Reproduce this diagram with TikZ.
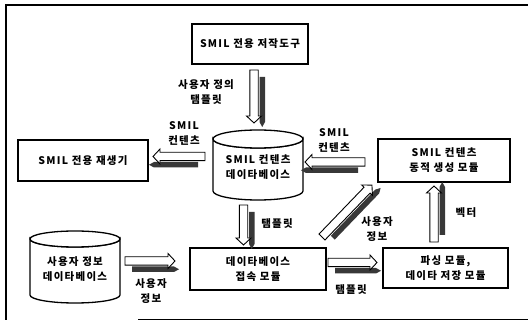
\documentclass[tikz,border=0pt]{standalone}
\usepackage{fontspec}
\setmainfont{Noto Sans CJK KR}[LetterSpace=12]
\tikzset{
  box/.style={draw, line width=1.6pt, fill=white, align=center, inner sep=0pt},
  lbl/.style={align=center, inner sep=0pt},
  dbtxt/.style={align=center, inner sep=0pt},
  cyl/.style={draw, line width=1.3pt, fill=white},
  shade/.style={fill=black!78},
  pics/blockarrow/.style n args={2}{code={
    % #1 length, #2 side (+1 left of direction, -1 right)
    \fill[shade] (7,{#2*5.5}) -- ({#1-1},{#2*5.5}) -- ({#1+4},{#2*8.25}) -- ({#1-1},{#2*11}) -- (7,{#2*11}) -- cycle;
    \draw[line width=0.9pt, fill=white, line join=miter]
      (0,-4.2) -- ({#1-7},-4.2) -- ({#1-7},-7.5) -- (#1,0) -- ({#1-7},7.5) -- ({#1-7},4.2) -- (0,4.2) -- cycle;
  }}
}
\begin{document}
\begin{tikzpicture}[x=1pt,y=1pt,font=\fontsize{10.5}{15}\selectfont\bfseries]
\useasboundingbox (0,0) rectangle (528,324);
% frame
\draw[line width=1.2pt] (6,4) -- (6,319) -- (528,319);
\draw[line width=1pt] (138,4) -- (528,4);

% boxes
\node[box, minimum width=116pt, minimum height=40pt] (author) at (250,280) {SMIL 전용 저작도구};
\node[box, minimum width=130pt, minimum height=41pt] (player) at (83,163.5) {SMIL 전용 재생기};
\node[box, minimum width=132pt, minimum height=43pt] (gen) at (444,163.5) {SMIL 컨텐츠\\동적 생성 모듈};
\node[box, minimum width=136pt, minimum height=42pt] (access) at (258,55) {데이타베이스\\접속 모듈};
\node[box, minimum width=125pt, minimum height=40pt] (parse) at (445.5,56) {파싱 모듈,\\데이타 저장 모듈};

% SMIL contents DB cylinder
\path[cyl] (213,185) arc[start angle=180, end angle=360, x radius=45, y radius=9] -- (303,133)
  arc[start angle=0, end angle=-180, x radius=45, y radius=9] -- cycle;
\draw[cyl] (258,185) ellipse[x radius=45, y radius=9];
\node[dbtxt] (smildb) at (258,156.5) {SMIL 컨텐츠\\데이타베이스};

% user info DB cylinder
\path[cyl] (30,85) arc[start angle=180, end angle=360, x radius=45, y radius=8] -- (120,29)
  arc[start angle=0, end angle=-180, x radius=45, y radius=8] -- cycle;
\draw[cyl] (75,85) ellipse[x radius=45, y radius=8];
\node[dbtxt] (userdb) at (75,55) {사용자 정보\\데이타베이스};

% arrow anchors
\coordinate (a1) at (254,254);
\coordinate (a2) at (205,167.5);
\coordinate (a3) at (365,162);
\coordinate (a4) at (243.5,119);
\coordinate (a5) at (322,87);
\coordinate (a6) at (434,82);
\coordinate (a7) at (125,63);
\coordinate (a8) at (328,61.5);

\pic[rotate=-90] at (a1) {blockarrow={53}{1}};
\pic[rotate=180] at (a2) {blockarrow={52}{1}};
\pic[rotate=180] at (a3) {blockarrow={60}{1}};
\pic[rotate=-90] at (a4) {blockarrow={40}{1}};
\pic[rotate=46.1] at (a5) {blockarrow={72}{-1}};
\pic[rotate=90] at (a6) {blockarrow={56}{-1}};
\pic at (a7) {blockarrow={50}{-1}};
\pic at (a8) {blockarrow={49}{-1}};

% labels
\node[lbl] (l1) at (206,232) {사용자 정의\\탬플릿};
\node[lbl] (l2) at (184,191) {SMIL\\컨텐츠};
\node[lbl] (l3) at (334,184) {SMIL\\컨텐츠};
\node[lbl] (l4) at (277,100) {탬플릿};
\node[lbl] (l5) at (377,95) {사용자\\정보};
\node[lbl] (l6) at (466,111) {벡터};
\node[lbl] (l7) at (151,33) {사용자\\정보};
\node[lbl] (l8) at (351,34) {탬플릿};
\end{tikzpicture}
\end{document}
